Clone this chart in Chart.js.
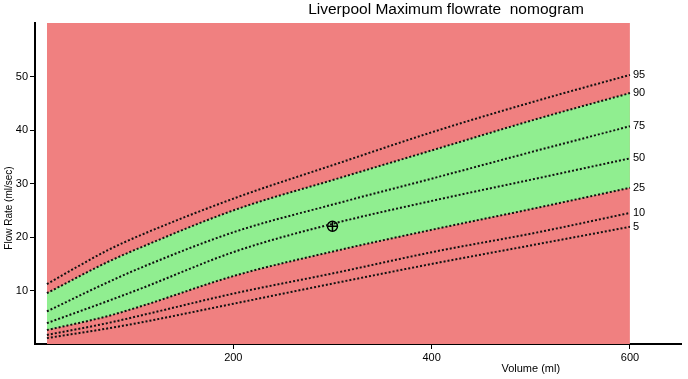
<!DOCTYPE html>
<html>
<head>
<meta charset="utf-8">
<title>Liverpool Maximum flowrate nomogram</title>
<script src="https://cdn.jsdelivr.net/npm/chart.js@4.4.1/dist/chart.umd.min.js"></script>
<style>
  html, body { margin: 0; padding: 0; background: #fff; }
  canvas { display: block; }
</style>
</head>
<body>
<canvas id="nomogram" width="688" height="379"></canvas>
<script>
const volumes = [12, 73, 106, 202, 303, 404, 505, 600];

// centile curves, flow rate (ml/sec)
const p95 = [11.2, 17.5, 20.3, 27.3, 33.6, 39.8, 45.4, 50.3];
const p90 = [9.5, 15.3, 18.0, 25.1, 30.8, 36.4, 42.0, 46.9];
const p75 = [6.1, 11.5, 14.2, 21.0, 26.2, 31.1, 36.1, 40.7];
const p50 = [3.9, 8.0, 10.3, 17.3, 22.6, 26.9, 30.9, 34.7];
const p25 = [2.6, 5.2, 7.0, 12.8, 17.4, 21.5, 25.4, 29.2];
const p10 = [1.7, 3.9, 5.3, 9.5, 13.3, 17.3, 20.8, 24.5];
const p5 = [1.1, 2.9, 4.0, 7.6, 11.4, 15.1, 18.6, 21.9];

const centileNames = ['95', '90', '75', '50', '25', '10', '5'];
const centiles = [p95, p90, p75, p50, p25, p10, p5];

// patient's measurement
const patientVolume = [300];
const patientFlow = [22];

// red zone extent
const zoneVolumes = [12, 600];
const zoneFlow = [60, 60];

const xTicks = [200, 400, 600];
const yTicks = [10, 20, 30, 40, 50];

const RED = '#f08080';
const GREEN = '#90ee90';
const FONT = "'Liberation Sans', Arial, sans-serif";

const toPoints = (xs, ys) => xs.map((x, i) => ({ x: x, y: ys[i] }));

const datasets = centiles.map((arr, i) => ({
    label: centileNames[i],
    data: toPoints(volumes, arr),
    borderColor: '#111',
    borderWidth: 2,
    borderDash: [2, 2],
    pointRadius: 0,
    cubicInterpolationMode: 'monotone',
    fill: false
}));

// green band between 90th and 25th centile
datasets[1].fill = { target: 4 };
datasets[1].backgroundColor = GREEN;

datasets.push({
    label: 'patient',
    data: toPoints(patientVolume, patientFlow),
    showLine: false,
    pointStyle: 'circle',
    pointRadius: 5,
    borderColor: '#000',
    borderWidth: 1.5,
    backgroundColor: 'rgba(0,0,0,0)'
});
datasets.push({
    label: 'patientCross',
    data: toPoints(patientVolume, patientFlow),
    showLine: false,
    pointStyle: 'cross',
    pointRadius: 5,
    borderColor: '#000',
    borderWidth: 1.5
});
datasets.push({
    label: 'zone',
    data: toPoints(zoneVolumes, zoneFlow),
    borderWidth: 0,
    pointRadius: 0,
    backgroundColor: RED,
    fill: 'origin'
});

// text labels: centile names, title, axis titles
const labelsPlugin = {
    id: 'labels',
    afterDraw(chart) {
        const ctx = chart.ctx;
        const xs = chart.scales.x;
        const ys = chart.scales.y;
        ctx.save();
        ctx.fillStyle = '#000';
        ctx.font = '11px ' + FONT;
        ctx.textAlign = 'left';
        ctx.textBaseline = 'middle';
        centiles.forEach((arr, i) => {
            const last = arr.length - 1;
            ctx.fillText(centileNames[i], xs.getPixelForValue(volumes[last]) + 3, ys.getPixelForValue(arr[last]));
        });

        ctx.font = '15.5px ' + FONT;
        ctx.textAlign = 'center';
        ctx.fillText('Liverpool Maximum flowrate  nomogram', 446, 10);

        ctx.font = '11px ' + FONT;
        ctx.fillText('Volume (ml)', xs.getPixelForValue(500), 369);

        ctx.translate(9, 208);
        ctx.rotate(-Math.PI / 2);
        ctx.font = '10px ' + FONT;
        ctx.fillText('Flow Rate (ml/sec)', 0, 0);
        ctx.restore();
    }
};

const axisStyle = {
    grid: { display: true, drawOnChartArea: false, drawTicks: true, tickLength: 5, color: '#000', lineWidth: 1 },
    border: { display: true, color: '#000', width: 2 }
};

new Chart(document.getElementById('nomogram'), {
    type: 'line',
    data: { datasets: datasets },
    options: {
        responsive: false,
        animation: false,
        devicePixelRatio: 1,
        layout: { padding: { top: 23, right: 0, left: 0, bottom: 0 } },
        scales: {
            x: {
                type: 'linear',
                min: 0,
                max: 652,
                grid: axisStyle.grid,
                border: axisStyle.border,
                ticks: { color: '#000', font: { size: 11, family: FONT }, padding: 2, maxRotation: 0, autoSkip: false },
                afterBuildTicks: function (scale) {
                    scale.ticks = xTicks.map(v => ({ value: v }));
                },
                afterFit: function (scale) { scale.height = 35; }
            },
            y: {
                type: 'linear',
                min: 0,
                max: 60,
                grid: axisStyle.grid,
                border: axisStyle.border,
                ticks: { color: '#000', font: { size: 11, family: FONT }, padding: 2, autoSkip: false },
                afterBuildTicks: function (scale) {
                    scale.ticks = yTicks.map(v => ({ value: v }));
                },
                afterFit: function (scale) { scale.width = 35; }
            }
        },
        plugins: {
            legend: { display: false },
            tooltip: { enabled: false },
            title: { display: false },
            filler: { drawTime: 'beforeDatasetsDraw' }
        }
    },
    plugins: [labelsPlugin]
});
</script>
</body>
</html>
